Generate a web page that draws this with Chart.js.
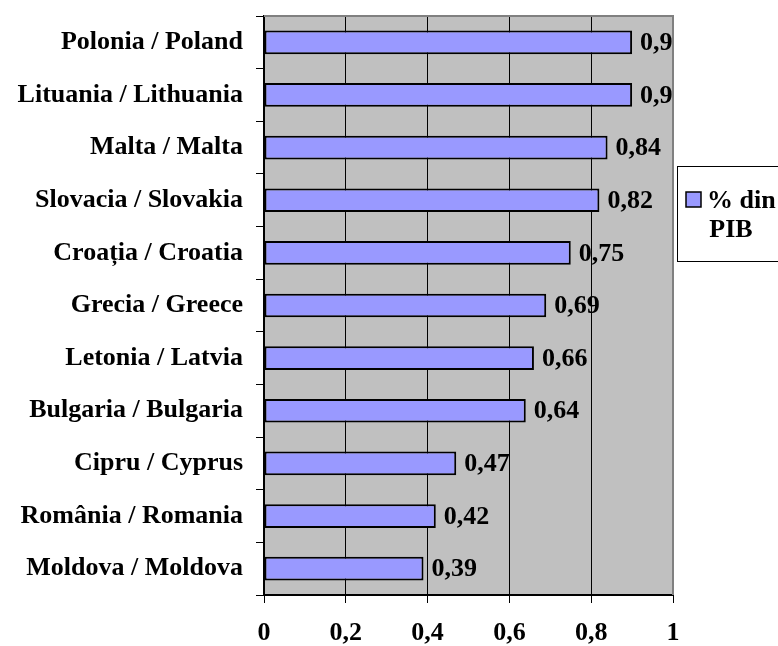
<!DOCTYPE html>
<html>
<head>
<meta charset="utf-8">
<script src="https://cdn.jsdelivr.net/npm/chart.js@4.4.0/dist/chart.umd.min.js"></script>
<style>
  body { margin: 0; background: #fff; }
</style>
</head>
<body>
<canvas id="grafic" width="778" height="646"></canvas>
<script>
const tari = [
  "Polonia / Poland",
  "Lituania / Lithuania",
  "Malta / Malta",
  "Slovacia / Slovakia",
  "Croația / Croatia",
  "Grecia / Greece",
  "Letonia / Latvia",
  "Bulgaria / Bulgaria",
  "Cipru / Cyprus",
  "România / Romania",
  "Moldova / Moldova"
];
const valori = [0.9, 0.9, 0.84, 0.82, 0.75, 0.69, 0.66, 0.64, 0.47, 0.42, 0.39];
const numeSerie = "% din PIB";
const liniiLegenda = ["% din", "PIB"];

const FONT = "Liberation Serif, Times New Roman, serif";
const culoareBara = "#9999FF";

function virgula(v) {
  return String(Math.round(v * 100) / 100).replace(".", ",");
}

// fundal gri al zonei de desen
const fundal = {
  id: "fundal",
  beforeDraw(chart) {
    const { ctx, chartArea: a } = chart;
    ctx.save();
    ctx.fillStyle = "#C0C0C0";
    ctx.fillRect(a.left, a.top, a.right - a.left, a.bottom - a.top);
    ctx.restore();
  },
  afterDatasetsDraw(chart) {
    const { ctx, chartArea: a } = chart;
    ctx.save();
    ctx.strokeStyle = "#808080";
    ctx.lineWidth = 2;
    ctx.beginPath();
    ctx.moveTo(a.left, a.top);
    ctx.lineTo(a.right, a.top);
    ctx.lineTo(a.right, a.bottom);
    ctx.stroke();
    ctx.restore();
  }
};

// etichetele cu valori
const etichete = {
  id: "etichete",
  afterDatasetsDraw(chart) {
    const { ctx } = chart;
    const meta = chart.getDatasetMeta(0);
    ctx.save();
    ctx.font = "bold 26px " + FONT;
    ctx.fillStyle = "#000";
    ctx.textBaseline = "middle";
    ctx.textAlign = "left";
    meta.data.forEach((bar, i) => {
      ctx.fillText(virgula(valori[i]), bar.x + 8, bar.y + 1);
    });
    ctx.restore();
  }
};

// legenda (taiata la marginea din dreapta)
const legenda = {
  id: "legenda",
  afterDraw(chart) {
    const { ctx } = chart;
    ctx.save();
    ctx.fillStyle = "#fff";
    ctx.strokeStyle = "#000";
    ctx.lineWidth = 1;
    ctx.fillRect(677.5, 166.5, 110, 95);
    ctx.strokeRect(677.5, 166.5, 110, 95);
    ctx.fillStyle = culoareBara;
    ctx.fillRect(686, 192, 15, 15);
    ctx.lineWidth = 1.5;
    ctx.strokeRect(686, 192, 15, 15);
    ctx.fillStyle = "#000";
    ctx.font = "bold 26px " + FONT;
    ctx.textBaseline = "middle";
    ctx.textAlign = "left";
    ctx.fillText(liniiLegenda[0], 707, 201);
    ctx.textAlign = "center";
    ctx.fillText(liniiLegenda[1], 731, 230);
    ctx.restore();
  }
};

const ctx = document.getElementById("grafic");
new Chart(ctx, {
  type: "bar",
  data: {
    labels: tari,
    datasets: [{
      label: numeSerie,
      data: valori,
      backgroundColor: culoareBara,
      borderColor: "#000",
      borderWidth: 2,
      borderSkipped: false,
      barPercentage: 0.9,
      categoryPercentage: 0.5
    }]
  },
  options: {
    indexAxis: "y",
    responsive: false,
    animation: false,
    layout: { padding: { top: 16, right: 105, left: 0, bottom: 0 } },
    plugins: {
      legend: { display: false },
      tooltip: { enabled: false }
    },
    scales: {
      x: {
        min: 0,
        max: 1,
        ticks: {
          stepSize: 0.2,
          color: "#000",
          font: { family: FONT, size: 26, weight: "bold" },
          padding: 15,
          callback: v => virgula(v)
        },
        grid: {
          color: c => (c.tick && c.tick.value === 1 ? "#808080" : "#000"),
          tickColor: "#000",
          lineWidth: 1,
          tickLength: 8
        },
        border: { display: true, color: "#000", width: 2 },
        afterFit(scale) {
          scale.height = 51;
          scale.paddingLeft = 0;
          scale.paddingRight = 0;
        }
      },
      y: {
        ticks: {
          color: "#000",
          font: { family: FONT, size: 26, weight: "bold" },
          padding: 13
        },
        grid: {
          offset: true,
          drawOnChartArea: false,
          color: "#000",
          tickLength: 8
        },
        border: { display: true, color: "#000", width: 2 },
        afterFit(scale) {
          scale.width = 264;
          scale.paddingTop = 0;
          scale.paddingBottom = 0;
        }
      }
    }
  },
  plugins: [fundal, etichete, legenda]
});
</script>
</body>
</html>
